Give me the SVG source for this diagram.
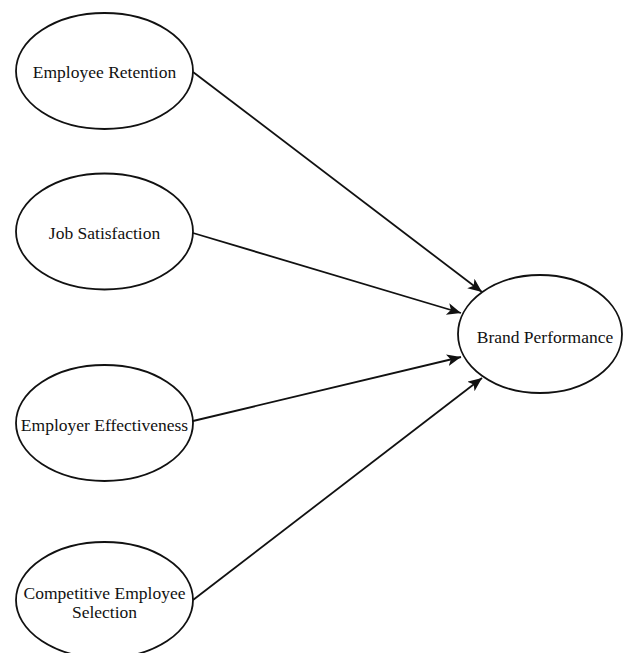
<svg xmlns="http://www.w3.org/2000/svg" width="624" height="653" viewBox="0 0 624 653">
<style>
.node ellipse{fill:#fff;stroke:#111;stroke-width:1.8}
.node text{font-family:"Liberation Serif","Times New Roman",serif;font-size:17.5px;fill:#111;text-anchor:middle}
.edges line{stroke:#111;stroke-width:1.8}
</style>
<defs>
<marker id="arr" markerUnits="userSpaceOnUse" markerWidth="16" markerHeight="14" refX="14" refY="6" orient="auto">
<path d="M0,0 L14,6 L0,12 L3.5,6 Z" fill="#111"/>
</marker>
</defs>
<rect width="624" height="653" fill="#fff"/>
<g id="connectors" class="edges">
<line x1="193" y1="72" x2="482" y2="292" marker-end="url(#arr)"/>
<line x1="193" y1="233" x2="461" y2="313" marker-end="url(#arr)"/>
<line x1="193" y1="421" x2="461" y2="357" marker-end="url(#arr)"/>
<line x1="193" y1="600" x2="482" y2="378" marker-end="url(#arr)"/>
</g>
<g id="employee-retention" class="node">
<ellipse cx="104.5" cy="71" rx="88.5" ry="58"/>
<text x="104.5" y="78">Employee Retention</text>
</g>
<g id="job-satisfaction" class="node">
<ellipse cx="104.5" cy="231.5" rx="88.5" ry="58"/>
<text x="104.5" y="239">Job Satisfaction</text>
</g>
<g id="employer-effectiveness" class="node">
<ellipse cx="104.5" cy="423" rx="88.5" ry="58"/>
<text x="104.5" y="431">Employer Effectiveness</text>
</g>
<g id="competitive-employee-selection" class="node">
<ellipse cx="104.5" cy="600" rx="88.5" ry="58"/>
<text x="104.5" y="599">Competitive Employee</text>
<text x="104.5" y="618">Selection</text>
</g>
<g id="brand-performance" class="node">
<ellipse cx="540" cy="334" rx="82" ry="59"/>
<text x="545" y="343">Brand Performance</text>
</g>
</svg>
